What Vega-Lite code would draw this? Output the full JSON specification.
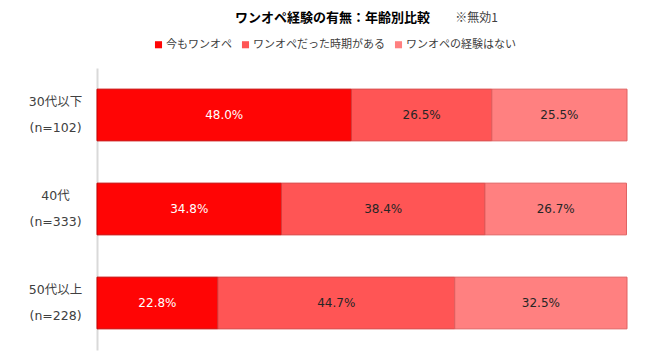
{
  "$schema": "https://vega.github.io/schema/vega-lite/v6.json",
  "width": 530,
  "height": 282,
  "autosize": "none",
  "padding": {"left": 97, "top": 68, "right": 23, "bottom": 7},
  "background": "white",
  "config": {
    "font": "Noto Sans CJK JP",
    "view": {"stroke": null}
  },
  "data": {
    "values": [
      {"group": "30代以下\n(n=102)", "cat": "今もワンオペ", "order": 1, "pct": 0.480},
      {"group": "30代以下\n(n=102)", "cat": "ワンオペだった時期がある", "order": 2, "pct": 0.265},
      {"group": "30代以下\n(n=102)", "cat": "ワンオペの経験はない", "order": 3, "pct": 0.255},
      {"group": "40代\n(n=333)", "cat": "今もワンオペ", "order": 1, "pct": 0.348},
      {"group": "40代\n(n=333)", "cat": "ワンオペだった時期がある", "order": 2, "pct": 0.384},
      {"group": "40代\n(n=333)", "cat": "ワンオペの経験はない", "order": 3, "pct": 0.267},
      {"group": "50代以上\n(n=228)", "cat": "今もワンオペ", "order": 1, "pct": 0.228},
      {"group": "50代以上\n(n=228)", "cat": "ワンオペだった時期がある", "order": 2, "pct": 0.447},
      {"group": "50代以上\n(n=228)", "cat": "ワンオペの経験はない", "order": 3, "pct": 0.325}
    ]
  },
  "encoding": {
    "y": {
      "field": "group",
      "type": "nominal",
      "sort": null,
      "scale": {"paddingInner": 0.45, "paddingOuter": 0.225},
      "axis": {
        "title": null,
        "labelExpr": "split(datum.label, '\\n')",
        "labelAlign": "center",
        "labelPadding": 42,
        "labelOffset": -13,
        "labelFontSize": 12.5,
        "labelLineHeight": 26,
        "labelColor": "#404040",
        "labelFont": "DejaVu Sans, Noto Sans CJK JP",
        "ticks": false,
        "tickSize": 0,
        "domainColor": "#d9d9d9",
        "domainWidth": 2,
        "grid": false
      }
    },
    "x": {
      "field": "pct",
      "type": "quantitative",
      "stack": "zero",
      "scale": {"domain": [0, 1], "nice": false}
    },
    "order": {"field": "order", "type": "quantitative"}
  },
  "layer": [
    {
      "mark": {"type": "bar", "strokeWidth": 1},
      "encoding": {
        "color": {
          "field": "cat",
          "type": "nominal",
          "sort": ["今もワンオペ", "ワンオペだった時期がある", "ワンオペの経験はない"],
          "scale": {
            "domain": ["今もワンオペ", "ワンオペだった時期がある", "ワンオペの経験はない"],
            "range": ["#ff0505", "#ff5555", "#ff8080"]
          },
          "legend": {
            "title": null,
            "orient": "none",
            "direction": "horizontal",
            "legendX": 56,
            "legendY": -29,
            "symbolType": "square",
            "symbolSize": 50,
            "symbolStrokeWidth": 0,
            "labelFontSize": 11,
            "labelColor": "#404040",
            "columnPadding": 8,
            "labelOffset": 2
          }
        },
        "stroke": {
          "field": "cat",
          "type": "nominal",
          "scale": {
            "domain": ["今もワンオペ", "ワンオペだった時期がある", "ワンオペの経験はない"],
            "range": ["#c80000", "#d83c3c", "#e06060"]
          },
          "legend": null
        },
        "x": {
          "field": "pct",
          "type": "quantitative",
          "stack": "zero",
          "axis": {
            "orient": "top",
            "title": "ワンオペ経験の有無：年齢別比較",
            "titleFontSize": 13,
            "titleFontWeight": "bold",
            "titleColor": "#000000",
            "titleX": 235,
            "titleY": -51,
            "titleAlign": "center",
            "titleBaseline": "middle",
            "labels": false,
            "ticks": false,
            "domain": false,
            "grid": false
          }
        }
      }
    },
    {
      "mark": {"type": "text", "fontSize": 12, "font": "DejaVu Sans, Noto Sans CJK JP"},
      "encoding": {
        "x": {
          "field": "pct",
          "type": "quantitative",
          "stack": "zero",
          "bandPosition": 0.5,
          "axis": {
            "orient": "bottom",
            "title": "※無効1",
            "titleFontSize": 12,
            "titleFontWeight": "normal",
            "titleColor": "#404040",
            "titleX": 379,
            "titleY": -333,
            "titleAlign": "center",
            "titleBaseline": "middle",
            "labels": false,
            "ticks": false,
            "domain": false,
            "grid": false
          }
        },
        "text": {"field": "pct", "type": "quantitative", "format": ".1%"},
        "color": {
          "condition": {"test": "datum.order == 1", "value": "#ffffff"},
          "value": "#262626"
        }
      }
    }
  ],
  "resolve": {"axis": {"x": "independent"}}
}
